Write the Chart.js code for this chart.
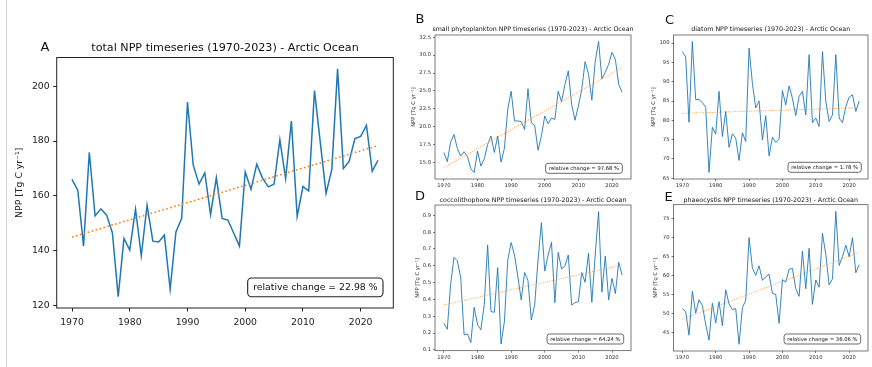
<!DOCTYPE html>
<html>
<head>
<meta charset="utf-8">
<script src="https://cdn.jsdelivr.net/npm/chart.js@4.4.1/dist/chart.umd.min.js"></script>
<style>
  html, body { margin: 0; padding: 0; background: #fff; }
  #wrap { position: relative; width: 872px; height: 367px; overflow: hidden; background: #fff; }
  #wrap canvas { position: absolute; left: 0; top: 0; }
  #edge { position: absolute; left: 6px; top: 0; width: 1px; height: 367px; background: #d2d2d2; }
</style>
</head>
<body>
<div id="wrap">
  <div id="edge"></div>
  <canvas id="cA" width="872" height="367"></canvas>
  <canvas id="cB" width="872" height="367"></canvas>
  <canvas id="cC" width="872" height="367"></canvas>
  <canvas id="cD" width="872" height="367"></canvas>
  <canvas id="cE" width="872" height="367"></canvas>
</div>
<script>
// Years of the Arctic Ocean NPP record
const years = [1970, 1971, 1972, 1973, 1974, 1975, 1976, 1977, 1978, 1979,
               1980, 1981, 1982, 1983, 1984, 1985, 1986, 1987, 1988, 1989,
               1990, 1991, 1992, 1993, 1994, 1995, 1996, 1997, 1998, 1999,
               2000, 2001, 2002, 2003, 2004, 2005, 2006, 2007, 2008, 2009,
               2010, 2011, 2012, 2013, 2014, 2015, 2016, 2017, 2018, 2019,
               2020, 2021, 2022, 2023];

// Annual NPP [Tg C / yr]
const totalNPP = [166.0, 162.1, 141.7, 175.9, 152.7, 155.3, 153.0, 146.5, 123.3, 144.5,
                  140.3, 155.2, 138.2, 156.6, 143.5, 143.2, 145.7, 126.0, 146.9, 151.8,
                  194.2, 171.2, 164.3, 168.4, 153.2, 166.7, 151.8, 151.2, 146.5, 141.7,
                  168.7, 162.4, 171.6, 166.5, 163.3, 164.3, 180.5, 166.3, 187.3, 152.5,
                  163.5, 161.8, 198.4, 179.6, 160.9, 169.7, 206.3, 170.0, 172.6, 180.9,
                  181.7, 185.7, 169.0, 173.0];

const smallPhytoNPP = [16.4, 15.1, 17.85, 18.9, 16.95, 15.9, 16.5, 15.85, 14.1, 13.6,
                       16.6, 14.5, 15.5, 17.5, 18.7, 16.4, 18.7, 15.05, 17.0, 22.5,
                       24.95, 20.8, 20.8, 20.7, 19.6, 25.3, 20.55, 20.2, 16.7, 18.7,
                       21.5, 20.4, 21.2, 21.0, 24.95, 23.5, 25.9, 27.8, 23.1, 20.9,
                       22.9, 25.2, 29.1, 27.4, 23.7, 29.1, 31.9, 26.7, 27.6, 28.7,
                       30.4, 29.4, 25.9, 24.8];

const diatomNPP = [97.8, 96.4, 79.5, 100.4, 85.4, 85.4, 84.6, 83.4, 66.5, 78.2,
                   76.4, 87.5, 75.8, 82.3, 73.0, 76.5, 75.4, 69.6, 76.8, 74.5,
                   98.7, 89.6, 83.2, 85.0, 74.9, 81.2, 70.8, 75.6, 74.3, 75.1,
                   87.7, 84.0, 88.9, 85.7, 81.2, 86.2, 87.5, 81.4, 97.0, 79.4,
                   80.6, 78.4, 97.8, 84.9, 79.7, 81.4, 97.0, 80.6, 79.4, 83.6,
                   86.0, 86.6, 82.3, 85.0];

const coccoNPP = [0.258, 0.223, 0.49, 0.65, 0.63, 0.53, 0.19, 0.195, 0.144, 0.353,
                  0.25, 0.22, 0.37, 0.724, 0.328, 0.324, 0.589, 0.135, 0.27, 0.635,
                  0.738, 0.664, 0.535, 0.397, 0.561, 0.512, 0.278, 0.368, 0.635, 0.856,
                  0.569, 0.664, 0.74, 0.381, 0.68, 0.581, 0.6, 0.664, 0.367, 0.381,
                  0.387, 0.56, 0.502, 0.674, 0.383, 0.664, 0.922, 0.443, 0.658, 0.397,
                  0.526, 0.435, 0.621, 0.545];

const phaeoNPP = [51.3, 50.5, 44.3, 55.8, 50.1, 53.6, 52.1, 47.2, 43.0, 52.7,
                  47.5, 53.1, 46.8, 56.2, 52.5, 51.0, 51.3, 41.9, 51.5, 53.5,
                  69.9, 61.9, 60.0, 62.5, 58.7, 59.6, 60.3, 55.3, 55.0, 47.4,
                  58.9, 58.2, 61.6, 61.8, 56.5, 54.5, 66.4, 56.5, 67.1, 52.4,
                  58.8, 56.9, 71.0, 65.5, 57.5, 59.1, 76.8, 62.6, 64.9, 67.9,
                  64.9, 69.9, 60.7, 62.8];

// Linear trend: value at the first year and relative change over the record [%]
const trendStart = { total: 145.0, small: 14.3, diatom: 81.8, cocco: 0.368, phaeo: 48.5 };
const relChange  = { total: 22.98, small: 97.68, diatom: 1.78, cocco: 64.24, phaeo: 36.06 };

// Tick labels
const xTicks = [1970, 1980, 1990, 2000, 2010, 2020];
const yTicksTotal  = [120, 140, 160, 180, 200];
const yTicksSmall  = [15.0, 17.5, 20.0, 22.5, 25.0, 27.5, 30.0, 32.5];
const yTicksDiatom = [65, 70, 75, 80, 85, 90, 95, 100];
const yTicksCocco  = [0.1, 0.2, 0.3, 0.4, 0.5, 0.6, 0.7, 0.8, 0.9];
const yTicksPhaeo  = [45, 50, 55, 60, 65, 70, 75];

const FONT = '"DejaVu Sans", "Liberation Sans", sans-serif';
const W = 872, H = 367;

// Panel letter, title, axes frame and the relative-change box
const panelDecor = {
  id: 'panelDecor',
  afterDraw(chart, args, o) {
    const { ctx, chartArea: a } = chart;
    ctx.save();
    ctx.strokeStyle = o.frameColor;
    ctx.lineWidth = o.frameWidth;
    ctx.strokeRect(a.left, a.top, a.right - a.left, a.bottom - a.top);

    ctx.fillStyle = '#111';
    ctx.textAlign = 'center';
    ctx.textBaseline = 'middle';
    ctx.font = `${o.titleSize}px ${FONT}`;
    ctx.fillText(o.title, (a.left + a.right) / 2, o.titleY);

    ctx.font = `${o.letterSize}px ${FONT}`;
    ctx.fillText(o.letter, o.letterX, o.letterY);

    ctx.font = `${o.boxFont}px ${FONT}`;
    const tw = ctx.measureText(o.boxText).width;
    const bw = tw + 2 * o.boxPadX, bh = o.boxH;
    const bx = a.right - o.boxRight - bw, by = a.bottom - o.boxBottom - bh;
    ctx.beginPath();
    ctx.roundRect(bx, by, bw, bh, o.boxRadius);
    ctx.fillStyle = '#fff';
    ctx.fill();
    ctx.lineWidth = o.boxLine;
    ctx.strokeStyle = o.frameColor;
    ctx.stroke();
    ctx.fillStyle = '#111';
    ctx.fillText(o.boxText, bx + bw / 2, by + bh / 2 + 0.5);
    ctx.restore();
  }
};

function makePanel(id, p) {
  const lo = Math.min(...p.values), hi = Math.max(...p.values);
  const yPad = (hi - lo) * 0.05;
  const xPad = (years[years.length - 1] - years[0]) * 0.05;
  const trendEnd = p.trend0 * (1 + p.rel / 100);
  const lh = 1.2;
  const padLeft = p.yLabelX - p.fs * lh / 2;
  const yW = p.L - padLeft;

  new Chart(document.getElementById(id), {
    type: 'line',
    data: {
      datasets: [
        {
          label: 'trend',
          data: [{ x: years[0], y: p.trend0 }, { x: years[years.length - 1], y: trendEnd }],
          borderColor: p.trendColor,
          borderWidth: p.trendW,
          borderDash: p.trendDash,
          borderCapStyle: 'butt',
          pointRadius: 0,
          order: 0
        },
        {
          label: 'NPP',
          data: years.map((yr, i) => ({ x: yr, y: p.values[i] })),
          borderColor: '#1f77b4',
          borderWidth: p.lineW,
          pointRadius: 0,
          tension: 0,
          order: 1
        }
      ]
    },
    options: {
      responsive: false,
      animation: false,
      events: [],
      layout: { padding: { left: padLeft, right: W - p.R, top: p.T, bottom: H - p.B - p.xH } },
      plugins: {
        legend: { display: false },
        tooltip: { enabled: false },
        panelDecor: {
          title: p.title, titleSize: p.titleFs, titleY: p.titleY,
          letter: p.letter, letterSize: 13, letterX: p.letterX, letterY: p.letterY,
          frameColor: p.frameColor, frameWidth: p.frameW,
          boxText: `relative change = ${p.rel.toFixed(2)} %`, boxFont: p.fs,
          boxPadX: p.boxPadX, boxH: p.boxH, boxRight: p.boxRight, boxBottom: p.boxBottom,
          boxRadius: p.boxRadius, boxLine: p.boxLine
        }
      },
      scales: {
        x: {
          type: 'linear',
          min: years[0] - xPad,
          max: years[years.length - 1] + xPad,
          afterBuildTicks: s => { s.ticks = xTicks.map(v => ({ value: v })); },
          afterFit: s => { s.height = p.xH; },
          ticks: {
            autoSkip: false, maxRotation: 0, padding: p.xTickPad,
            color: p.textColor, font: { family: FONT, size: p.fs },
            callback: v => String(v)
          },
          grid: { display: true, drawOnChartArea: false, drawTicks: true, tickLength: p.tickLen, color: p.frameColor, lineWidth: p.frameW },
          border: { display: false }
        },
        y: {
          type: 'linear',
          min: lo - yPad,
          max: hi + yPad,
          afterBuildTicks: s => { s.ticks = p.yTicks.map(v => ({ value: v })); },
          afterFit: s => { s.width = yW; },
          ticks: {
            autoSkip: false, padding: p.tickPad,
            color: p.textColor, font: { family: FONT, size: p.fs },
            callback: v => v.toFixed(p.dec)
          },
          grid: { display: true, drawOnChartArea: false, drawTicks: true, tickLength: p.tickLen, color: p.frameColor, lineWidth: p.frameW },
          border: { display: false },
          title: {
            display: true, text: 'NPP [Tg C yr\u207B\u00B9]', padding: 0,
            color: p.textColor, font: { family: FONT, size: p.fs, lineHeight: lh }
          }
        }
      }
    },
    plugins: [panelDecor]
  });
}

const big = {
  fs: 9.3, titleFs: 11.15, xH: 24, lineW: 1.5, trendW: 1.6, trendDash: [1.6, 2.5],
  trendColor: '#ff7f0e', tickLen: 3.5, tickPad: 3.5, xTickPad: 5.5, frameColor: '#222', frameW: 1,
  textColor: '#222', boxPadX: 5.5, boxH: 18.7, boxRight: 10.3, boxBottom: 11.3,
  boxRadius: 4, boxLine: 1.1
};
const small = {
  fs: 5.25, titleFs: 6.3, xH: 10, lineW: 0.9, trendW: 0.9, trendDash: [0.9, 1.4],
  trendColor: '#ff8c2a', tickLen: 2, tickPad: 2, xTickPad: 1.5, frameColor: '#444', frameW: 0.7,
  textColor: '#333', boxPadX: 3.2, boxH: 10, boxRadius: 2.5, boxLine: 0.8
};

makePanel('cA', Object.assign({}, big, {
  values: totalNPP, trend0: trendStart.total, rel: relChange.total,
  yTicks: yTicksTotal, dec: 0, L: 56.7, T: 57.5, R: 393.3, B: 308, yLabelX: 20,
  title: 'total NPP timeseries (1970-2023) - Arctic Ocean', titleY: 48.3,
  letter: 'A', letterX: 45, letterY: 47.5
}));
makePanel('cB', Object.assign({}, small, {
  values: smallPhytoNPP, trend0: trendStart.small, rel: relChange.small,
  yTicks: yTicksSmall, dec: 1, L: 435, T: 35, R: 631, B: 179, yLabelX: 413.3,
  title: 'small phytoplankton NPP timeseries (1970-2023) - Arctic Ocean', titleY: 29.3,
  letter: 'B', letterX: 420, letterY: 20, boxRight: 8.7, boxBottom: 5.7
}));
makePanel('cC', Object.assign({}, small, {
  values: diatomNPP, trend0: trendStart.diatom, rel: relChange.diatom,
  yTicks: yTicksDiatom, dec: 0, L: 673.5, T: 35, R: 868, B: 179, yLabelX: 653.3,
  title: 'diatom NPP timeseries (1970-2023) - Arctic Ocean', titleY: 29,
  letter: 'C', letterX: 669.5, letterY: 21, boxRight: 6.7, boxBottom: 6.7
}));
makePanel('cD', Object.assign({}, small, {
  values: coccoNPP, trend0: trendStart.cocco, rel: relChange.cocco,
  yTicks: yTicksCocco, dec: 1, L: 435, T: 205, R: 631, B: 350.7, yLabelX: 417.3,
  title: 'coccolithophore NPP timeseries (1970-2023) - Arctic Ocean', titleY: 200,
  letter: 'D', letterX: 420, letterY: 197, boxRight: 7.3, boxBottom: 6.7
}));
makePanel('cE', Object.assign({}, small, {
  values: phaeoNPP, trend0: trendStart.phaeo, rel: relChange.phaeo,
  yTicks: yTicksPhaeo, dec: 0, L: 673.5, T: 204.7, R: 868, B: 351, yLabelX: 655.7,
  title: 'phaeocystis NPP timeseries (1970-2023) - Arctic Ocean', titleY: 200,
  letter: 'E', letterX: 668.7, letterY: 197.5, boxRight: 7.3, boxBottom: 7
}));
</script>
</body>
</html>
